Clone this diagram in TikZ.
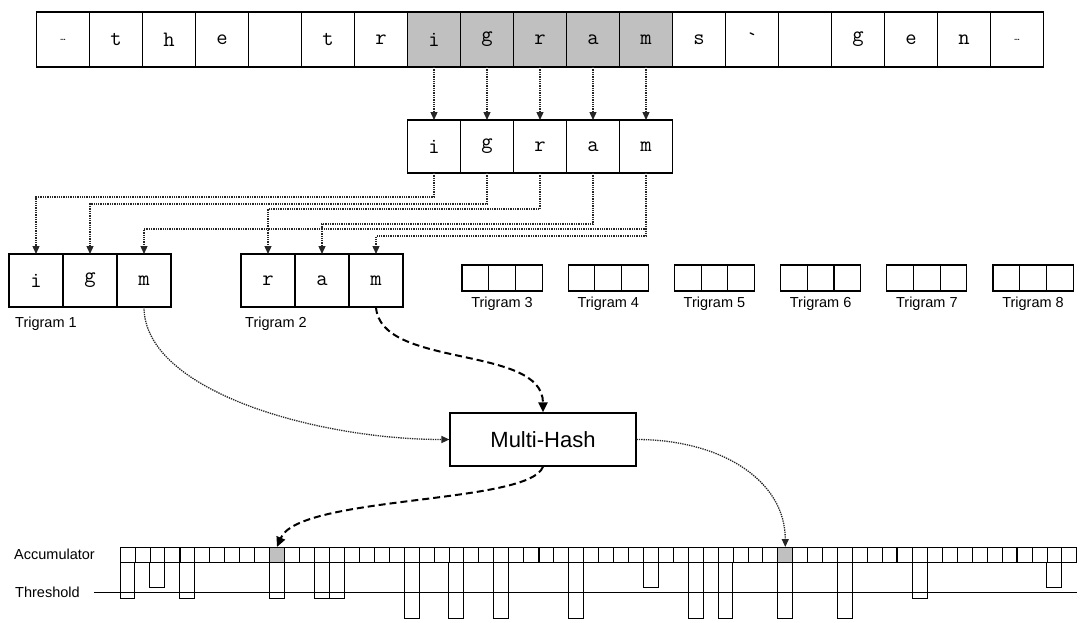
\documentclass[tikz,border=0pt]{standalone}
\usepackage{fontspec}
\setsansfont{Liberation Sans}
\usetikzlibrary{arrows.meta}
\usetikzlibrary{positioning}
\definecolor{hl}{RGB}{192,192,192}
\newcommand{\elide}{{\fontsize{10}{10}\selectfont\ldots}}
\tikzset{cell/.style={rectangle, draw, line width=1.2pt, inner sep=0pt, outer sep=0pt,
   minimum width=53pt, minimum height=55pt, font=\ttfamily\fontsize{22}{22}\selectfont}}
\tikzset{mini/.style={rectangle, draw, line width=1.1pt, inner sep=0pt, outer sep=0pt,
   minimum width=26.7pt, minimum height=26pt}}
\tikzset{acc/.style={rectangle, draw, line width=0.8pt, inner sep=0pt, outer sep=0pt,
   minimum width=14.95pt, minimum height=15pt}}
\tikzset{lbl/.style={font=\sffamily\fontsize{14.5}{14.5}\selectfont, inner sep=0pt}}
\tikzset{dots/.style={densely dotted, line width=1.3pt, draw=black!85,
   -{Triangle[length=8pt,width=7pt]}}}
\tikzset{dashline/.style={dash pattern=on 7pt off 4pt, line width=2pt,
   -{Triangle[length=10pt,width=9pt]}}}

\begin{document}
\begin{tikzpicture}[x=1pt, y=-1pt]
  \useasboundingbox (0,0) rectangle (1080,622);

  \foreach \c [count=\i, evaluate=\i as \p using {int(and(\i>7,\i<13)*100)}]
      in {\elide,t,h,e,{},t,r,i,g,r,a,m,s,\textasciigrave,{},g,e,n,\elide}
    \node[cell, fill=hl!\p!white] (w\i) at ({36.5+53*(\i-0.5)}, 39.5) {\c};

  \foreach \c [count=\i] in {i,g,r,a,m}
    \node[cell, minimum height=53pt] (g\i) at ({36.5+53*(\i+6.5)}, 146.5) {\c};

  \foreach \i [evaluate=\i as \j using int(\i+7)] in {1,...,5}
    \draw[dots] (w\j.south) -- (g\i.north);

  \foreach \c [count=\i] in {i,g,m}
    \node[cell, minimum width=54pt, minimum height=53pt] (p\i) at ({9+54*(\i-0.5)}, 280.5) {\c};
  \foreach \c [count=\i] in {r,a,m}
    \node[cell, minimum width=54pt, minimum height=53pt] (q\i) at ({241+54*(\i-0.5)}, 280.5) {\c};
  \node[lbl, below right=10pt and 6pt of p1.south west] (lp) {Trigram 1};
  \node[lbl, below right=10pt and 4pt of q1.south west] (lq) {Trigram 2};

  \draw[dots] (g1.south) -- ++(0,24) -| (p1.north);
  \draw[dots] (g2.south) -- ++(0,31) -| (p2.north);
  \draw[dots] (g3.south) -- ++(0,36) -| (q1.north);
  \draw[dots] (g4.south) -- ++(0,51) -| (q2.north);
  \draw[dots] (g5.south) -- ++(0,56) -| (p3.north);
  \draw[dots] (g5.south) -- ++(0,63) -| (q3.north);

  \foreach \n [count=\k] in {3,...,8} {
    \foreach \i in {1,2,3}
      \node[mini] (s\n-\i) at ({462+106.2*(\k-1)+26.7*(\i-0.5)}, 278) {};
    \node[lbl, below=6pt of s\n-2] (ls\n) {Trigram \n};
  }

  \node[draw, line width=1.2pt, minimum width=186pt, minimum height=53pt,
        font=\sffamily\fontsize{22}{22}\selectfont] (mh) at (543, 439.5) {Multi-Hash};

  \foreach \k [evaluate=\k as \p using {int(or(\k==10,\k==44)*100)}] in {0,...,63}
    \node[acc, fill=hl!\p!white] (a\k) at ({120+14.95*(\k+0.5)}, 554.5) {};
  \foreach \k in {4,28,52,60}
    \draw[line width=2pt] (a\k.north west) -- (a\k.south west);

  \node[lbl, anchor=west] (lacc) at (14, 554.5) {Accumulator};
  \node[lbl, anchor=west] (lthr) at (15, 592) {Threshold};
  \draw[line width=0.9pt] ([xshift=14pt]lthr.east) -- (lthr -| a63.east);

  \foreach \k/\d in {0/36, 2/25, 4/36, 10/36, 13/36, 14/36, 19/56, 22/56, 25/56,
                     30/56, 35/25, 38/56, 40/56, 44/56, 48/56, 53/36, 62/25}
    \draw[line width=1pt] (a\k.south west) rectangle ++(14.95, \d);

  \draw[dots] (p3.south) .. controls +(0,85) and +(-130,0) .. (mh.west);
  \draw[dashline] (q3.south) .. controls +(4,62) and +(0,-68) .. (mh.north);
  \draw[dashline] (mh.south) .. controls +(-13,38) and +(22,-52) .. (a10.north);
  \draw[dots] (mh.east) .. controls +(84,0) and +(0,-67) .. (a44.north);

\end{tikzpicture}
\end{document}
